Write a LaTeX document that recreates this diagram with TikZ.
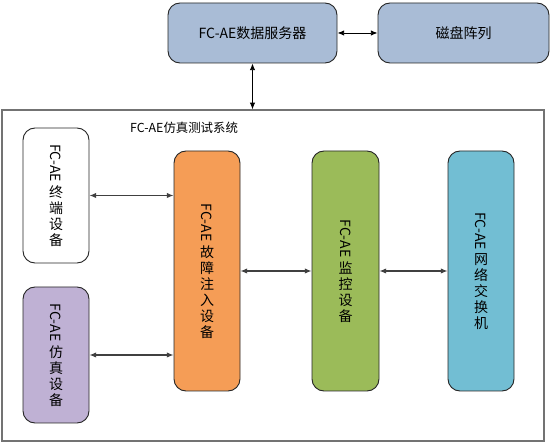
\documentclass[tikz,border=0pt]{standalone}
\usepackage{fontspec}
\setmainfont{Noto Sans CJK SC}
\usepackage{graphicx}
\usetikzlibrary{arrows.meta}
\definecolor{serverblue}{HTML}{A9BCD6}
\definecolor{simpurple}{HTML}{BFB1D4}
\definecolor{faultorange}{HTML}{F59D56}
\definecolor{monitorgreen}{HTML}{9BBB59}
\definecolor{switchblue}{HTML}{72BED3}
\newcommand{\vfc}{\rotatebox{-90}{FC-AE}\\[2pt]} % vertical latin part of the labels
\tikzset{
>={Latex[length=5pt,width=4pt]}, % small filled arrow heads
every node/.style={font=\fontsize{10.5pt}{12pt}\selectfont, inner sep=0pt},
unit/.style={draw=black!85, line width=0.7pt, rounded corners=9pt, align=center}, % every device box
topunit/.style={unit, fill=serverblue, minimum height=45pt},
devunit/.style={unit, minimum width=49.5pt}, % tall boxes inside the system frame
}

\begin{document}
\begin{tikzpicture}[x=0.75pt, y=-0.75pt]
    \useasboundingbox (0,0) rectangle (554,445);

    \node[topunit, minimum width=126.75pt] (server) at (252.5,33) {FC-AE数据服务器};
    \node[topunit, minimum width=128.25pt] (disk) at (463.5,33) {磁盘阵列};

    \node[draw=black!55, line width=1pt, minimum width=406.5pt, minimum height=248.25pt] (sys) at (273,275.5) {};
    \node[font=\fontsize{9.3pt}{11pt}\selectfont] (syslabel) at (184,128) {FC-AE仿真测试系统};

    \node[devunit, fill=white, minimum height=101.25pt] (term) at (56,195.5)
        {\vfc 终\\端\\设\\备};
    \node[devunit, fill=simpurple, minimum height=102pt] (sim) at (56,355)
        {\vfc 仿\\真\\设\\备};
    \node[devunit, fill=faultorange, minimum height=180pt] (fault) at (207,271)
        {\vfc 故\\障\\注\\入\\设\\备};
    \node[devunit, fill=monitorgreen, minimum width=50.25pt, minimum height=180pt] (mon) at (345.5,271)
        {\vfc 监\\控\\设\\备};
    \node[devunit, fill=switchblue, minimum height=180pt] (switch) at (481,271)
        {\vfc 网\\络\\交\\换\\机};

    \draw[line width=0.6pt]
    (server) edge[<->] (disk)
    (server.south) edge[<->] (server.south |- sys.north);

    \draw[line width=0.8pt, black!75]
    (term) edge[<->] (fault.west |- term)
    (sim) edge[<->] (fault.west |- sim)
    (fault) edge[<->] (mon)
    (mon) edge[<->] (switch);

\end{tikzpicture}
\end{document}
